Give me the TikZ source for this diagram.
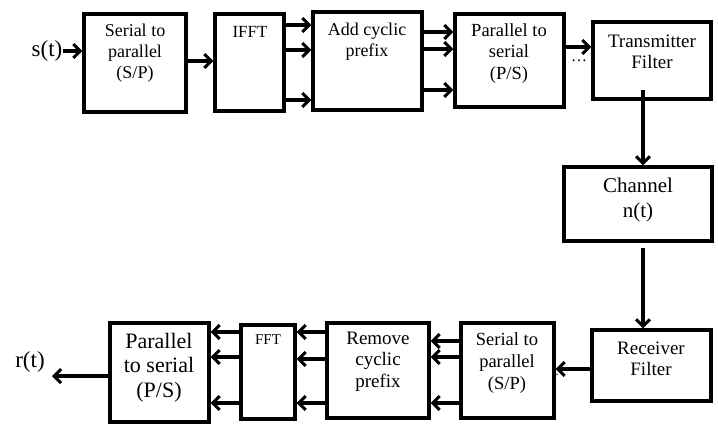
\documentclass[tikz,border=0pt]{standalone}
\usepackage{fontspec}
\setmainfont{Liberation Serif}
\usetikzlibrary{arrows.meta}
\begin{document}
\begin{tikzpicture}[x=1pt,y=-1pt,
  blk/.style={draw,line width=3.2pt,inner sep=0pt},
  arr/.style={line width=3.2pt,-{Straight Barb[length=7pt,width=14pt,line width=3pt]}},
  lbl/.style={align=center,inner sep=0pt}]
\fill[white] (0,0) rectangle (718,424);
\useasboundingbox (0,0) rectangle (718,424);
% boxes
\node[blk,minimum width=102pt,minimum height=98pt] (sp1) at (135,63) {};
\node[blk,minimum width=69pt,minimum height=97pt] (ifft) at (249.5,62.5) {};
\node[blk,minimum width=109pt,minimum height=98pt] (acp) at (367.5,61) {};
\node[blk,minimum width=109pt,minimum height=93pt] (ps1) at (509.5,60.5) {};
\node[blk,minimum width=118pt,minimum height=77pt] (tf) at (652,60.5) {};
\node[blk,minimum width=148pt,minimum height=74pt] (ch) at (638,204) {};
\node[blk,minimum width=119pt,minimum height=71pt] (rf) at (651.5,365.5) {};
\node[blk,minimum width=93pt,minimum height=95pt] (sp2) at (507.5,370.5) {};
\node[blk,minimum width=102pt,minimum height=95pt] (rcp) at (378,370.5) {};
\node[blk,minimum width=54pt,minimum height=94pt] (fft) at (268,372) {};
\node[blk,minimum width=99pt,minimum height=99pt] (ps2) at (159.5,372.5) {};
% texts
\node[lbl,font=\fontsize{18}{21}\selectfont] (tsp1) at (135,53) {Serial to\\parallel\\(S/P)};
\node[lbl,font=\fontsize{17}{20}\selectfont] (tifft) at (250,32) {IFFT};
\node[lbl,font=\fontsize{18}{21}\selectfont] (tacp) at (367,41.5) {Add cyclic\\prefix};
\node[lbl,font=\fontsize{18.5}{21.5}\selectfont] (tps1) at (509,53.5) {Parallel to\\serial\\(P/S)};
\node[lbl,font=\fontsize{19}{21}\selectfont] (ttf) at (652,51.5) {Transmitter\\Filter};
\node[lbl,font=\fontsize{21}{25}\selectfont] (tch) at (638,199.5) {Channel\\n(t)};
\node[lbl,font=\fontsize{19}{21}\selectfont] (trf) at (651,358.5) {Receiver\\Filter};
\node[lbl,font=\fontsize{18.5}{22}\selectfont] (tsp2) at (507,363) {Serial to\\parallel\\(S/P)};
\node[lbl,font=\fontsize{19}{21.5}\selectfont] (trcp) at (378,361.5) {Remove\\cyclic\\prefix};
\node[lbl,font=\fontsize{15}{18}\selectfont] (tfft) at (268,340) {FFT};
\node[lbl,font=\fontsize{22}{24.5}\selectfont] (tps2) at (159,367.5) {Parallel\\to serial\\(P/S)};
\node[lbl,font=\fontsize{23}{26}\selectfont] (st) at (47,51) {s(t)};
\node[lbl,font=\fontsize{23}{26}\selectfont] (rt) at (30,362) {r(t)};
\node[lbl,font=\fontsize{16}{18}\selectfont] (dots) at (579,61) {…};
\node[lbl,font=\fontsize{12}{14}\selectfont] (dot2) at (557,375) {.};
% connectors
\draw[arr] (st.east) -- (sp1.west |- st.east);
\draw[arr] (sp1.east |- 0,61) -- (ifft.west |- 0,61);
\foreach \yy in {25,50,100} \draw[arr] (ifft.east |- 0,\yy) -- (acp.west |- 0,\yy);
\foreach \yy in {32,49,90} \draw[arr] (acp.east |- 0,\yy) -- (ps1.west |- 0,\yy);
\draw[arr] (ps1.east |- 0,47) -- (tf.west |- 0,47);
\coordinate (c1) at (643,90);
\coordinate (c2) at (643,248);
\draw[arr] (c1) -- (c1 |- ch.north);
\draw[arr] (c2) -- (c2 |- rf.north);
\draw[arr] (rf.west |- 0,369) -- (sp2.east |- 0,369);
\foreach \yy in {341,357,403} \draw[arr] (sp2.west |- 0,\yy) -- (rcp.east |- 0,\yy);
\foreach \yy in {332,359,403} \draw[arr] (rcp.west |- 0,\yy) -- (fft.east |- 0,\yy);
\foreach \yy in {332,357,403} \draw[arr] (fft.west |- 0,\yy) -- (ps2.east |- 0,\yy);
\coordinate (rend) at (52,376);
\draw[arr] (ps2.west |- rend) -- (rend);
\end{tikzpicture}
\end{document}
